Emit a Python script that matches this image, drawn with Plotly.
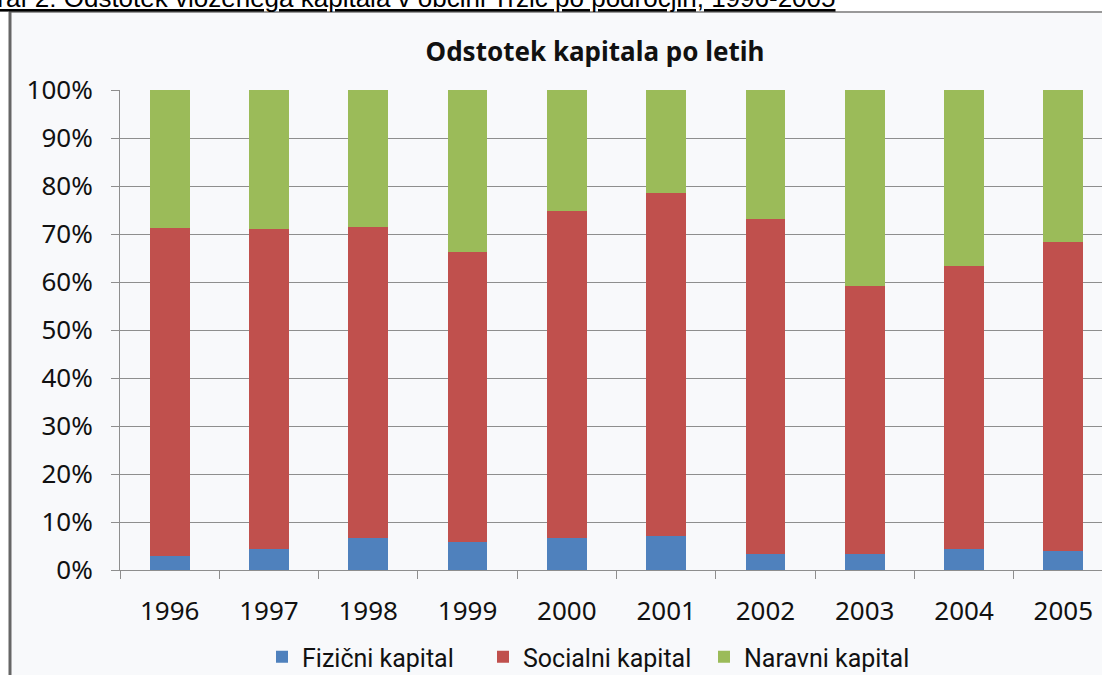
import plotly.graph_objects as go

years = ["1996", "1997", "1998", "1999", "2000", "2001", "2002", "2003", "2004", "2005"]
fizicni = [2.9, 4.4, 6.7, 5.8, 6.7, 7.1, 3.4, 3.4, 4.4, 3.9]
socialni = [68.4, 66.6, 64.8, 60.4, 68.1, 71.4, 69.7, 55.8, 58.9, 64.4]
naravni = [28.7, 29.0, 28.5, 33.8, 25.2, 21.5, 26.9, 40.8, 36.7, 31.7]
series_names = ["Fizični kapital", "Socialni kapital", "Naravni kapital"]
colors = ["#4F81BD", "#C0504D", "#9BBB59"]
y_ticks = [0, 10, 20, 30, 40, 50, 60, 70, 80, 90, 100]
y_ticktext = [f"{v}%" for v in y_ticks]

W, H = 1102, 675
L, T, B = 120, 90, 105
PW, PH = W - L, H - T - B


def px(x):
    return (x - L) / PW


def py(y):
    return (H - B - y) / PH


fig = go.Figure()
for name, vals, col in zip(series_names, [fizicni, socialni, naravni], colors):
    fig.add_trace(go.Bar(x=years, y=vals, name=name, marker=dict(color=col, line=dict(width=0))))

bg = "#F8F9FB"
grid = "#8E8E8E"

fig.update_layout(
    width=W, height=H,
    margin=dict(l=L, r=0, t=T, b=B, autoexpand=False),
    barmode="stack", bargap=0.6,
    paper_bgcolor="white", plot_bgcolor="rgba(0,0,0,0)",
    title=dict(text="<b>Odstotek kapitala po letih</b>", x=px(595), xref="paper",
               y=1 - 52 / H, yanchor="middle", xanchor="center",
               font=dict(family="Noto Sans", size=26, color="#111111")),
    showlegend=True,
    legend=dict(orientation="h", x=px(262), xanchor="left", y=py(657), yanchor="middle",
                traceorder="normal", entrywidth=176, entrywidthmode="pixels",
                font=dict(family="Roboto", size=25, color="#111111"), bgcolor="rgba(0,0,0,0)",
                tracegroupgap=0),
    xaxis=dict(range=[-0.5, 9.5 - (L + 10 * 99.3 - W) / 99.3], type="category",
               showline=True, linecolor=grid, linewidth=1,
               ticks="outside", tickson="boundaries", ticklen=8, tickcolor=grid,
               showgrid=False, ticklabelstandoff=18,
               tickfont=dict(family="Noto Sans", size=26, color="#111111")),
    yaxis=dict(range=[0, 100], tickvals=y_ticks, ticktext=y_ticktext,
               showline=True, linecolor=grid, linewidth=1,
               ticks="outside", ticklen=8, tickcolor=grid,
               showgrid=True, gridcolor=grid, gridwidth=1, zeroline=False,
               ticklabelstandoff=13,
               tickfont=dict(family="Noto Sans", size=26, color="#111111")),
    shapes=[
        dict(type="rect", xref="paper", yref="paper", x0=px(10), x1=px(W + 20), y0=py(H + 20), y1=py(12),
             fillcolor=bg, line=dict(color="#999999", width=2), layer="below"),
        dict(type="line", xref="paper", yref="paper", x0=px(10), x1=px(10), y0=py(H + 20), y1=py(12),
             line=dict(color="#666666", width=3), layer="below"),
    ],
    annotations=[
        dict(text="Graf 2: Odstotek vloženega kapitala v občini Tržič po področjih, 1996-2005",
             xref="paper", yref="paper", x=px(838), y=py(15), xanchor="right", yanchor="bottom",
             showarrow=False,
             font=dict(family="Liberation Sans", size=26, color="#000000", lineposition="under")),
    ],
)

fig.write_html("out.html", config={"displayModeBar": False},
               post_script="document.body.style.margin='0';document.body.style.overflow='hidden';")
